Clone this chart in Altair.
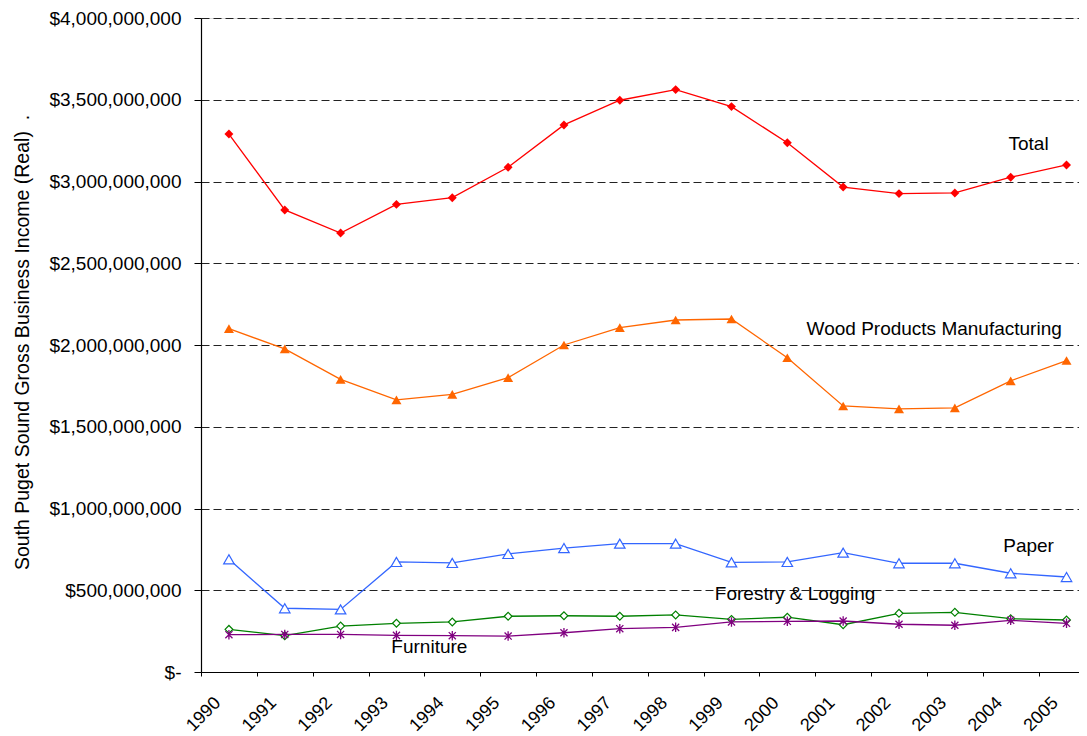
import altair as alt
import pandas as pd

years = list(range(1990, 2006))

total = [3.29, 2.826, 2.685, 2.860, 2.901, 3.087, 3.346, 3.497, 3.562, 3.458,
         3.237, 2.966, 2.926, 2.930, 3.026, 3.101]
wood = [2.100, 1.976, 1.790, 1.664, 1.698, 1.800, 2.000, 2.106, 2.153, 2.159,
        1.922, 1.627, 1.609, 1.615, 1.781, 1.905]
paper = [0.689, 0.390, 0.383, 0.673, 0.667, 0.722, 0.758, 0.785, 0.785, 0.671,
         0.673, 0.730, 0.665, 0.665, 0.604, 0.581]
forestry = [0.261, 0.222, 0.281, 0.298, 0.306, 0.341, 0.344, 0.341, 0.349, 0.322,
            0.335, 0.289, 0.359, 0.365, 0.326, 0.318]
furniture = [0.228, 0.230, 0.230, 0.224, 0.222, 0.220, 0.240, 0.265, 0.273, 0.306,
             0.310, 0.312, 0.292, 0.286, 0.316, 0.298]

label_names = ["Total", "Wood Products Manufacturing", "Paper", "Forestry & Logging", "Furniture"]
label_x = [2004.82, 2003.13, 2004.82, 2000.64, 1994.09]
label_y = [3.193, 2.061, 0.736, 0.440, 0.118]

y_ticks = [0, 5e8, 1e9, 1.5e9, 2e9, 2.5e9, 3e9, 3.5e9, 4e9]

FONT = "Liberation Sans"
ASTERISK = "M0,-1L0,1M-0.75,-0.75L0.75,0.75M-0.75,0.75L0.75,-0.75"

series = [
    ("Total", total, "#FF0000", "diamond", True, 80),
    ("Wood", wood, "#FF6600", "triangle-up", True, 100),
    ("Paper", paper, "#3366FF", "triangle-up", False, 110),
    ("Forestry", forestry, "#008000", "diamond", False, 60),
    ("Furniture", furniture, "#800080", ASTERISK, False, 90),
]

PLOT_W = 878
BAND = 55.84
x_max = 1990 + PLOT_W / BAND

x_enc = alt.X(
    "xpos:Q",
    scale=alt.Scale(domain=[1990, x_max], nice=False, zero=False),
    axis=alt.Axis(
        values=years, format="d", title=None, grid=False,
        labelAngle=315, labelAlign="right", labelBaseline="alphabetic",
        labelOffset=20, labelPadding=27.5, labelFlush=False, labelOverlap=False,
        labelFont=FONT, labelFontSize=18, labelColor="black",
        tickSize=4, tickColor="black", domainColor="black", domainWidth=1.2,
    ),
)

y_enc = alt.Y(
    "value:Q",
    scale=alt.Scale(domain=[0, 4e9], nice=False),
    axis=alt.Axis(
        values=y_ticks,
        labelExpr="datum.value == 0 ? '$-' : '$' + format(datum.value, ',.0f')",
        labelFont=FONT, labelFontSize=19, labelColor="black", labelPadding=13,
        tickSize=7, tickColor="black", domainColor="black", domainWidth=1.2,
        grid=True, gridColor="#222222", gridDash=[8, 4], gridWidth=1,
        title="South Puget Sound Gross Business Income (Real)\u00a0\u00a0.",
        titleFont=FONT, titleFontSize=19.5, titleFontWeight="normal", titleColor="black",
        titleAngle=270, titleAlign="center", titleBaseline="alphabetic",
        titleX=-173, titleY=324,
    ),
)

layers = []
for name, vals, color, shape, filled, size in series:
    df = pd.DataFrame({"year": years, "value": [v * 1e9 for v in vals]})
    base = alt.Chart(df).transform_calculate(xpos="datum.year + 0.5")
    line = base.mark_line(color=color, strokeWidth=1.3).encode(x=x_enc, y=y_enc)
    if filled:
        pt = base.mark_point(shape=shape, size=size, filled=True, color=color, opacity=1)
    elif shape == ASTERISK:
        pt = base.mark_point(shape=shape, size=size, filled=False, color=color,
                             strokeWidth=1.3, opacity=1)
    else:
        pt = base.mark_point(shape=shape, size=size, filled=True, fill="white",
                             stroke=color, strokeWidth=1.2, opacity=1)
    pt = pt.encode(x=x_enc, y=y_enc)
    layers += [line, pt]

lab_df = pd.DataFrame({"label": label_names, "xpos": label_x,
                       "value": [v * 1e9 for v in label_y]})
labels = alt.Chart(lab_df).mark_text(
    font=FONT, fontSize=19, color="black", align="center", baseline="alphabetic"
).encode(x=x_enc, y=y_enc, text="label:N")
layers.append(labels)

chart = alt.layer(*layers).properties(
    width=PLOT_W, height=654,
    autosize=alt.AutoSizeParams(type="none"),
    padding={"left": 193, "top": 10, "right": 0, "bottom": 72},
).configure_view(stroke=None).configure(background="white")

chart.save("out.html", embed_options={"renderer": "svg", "actions": False})
